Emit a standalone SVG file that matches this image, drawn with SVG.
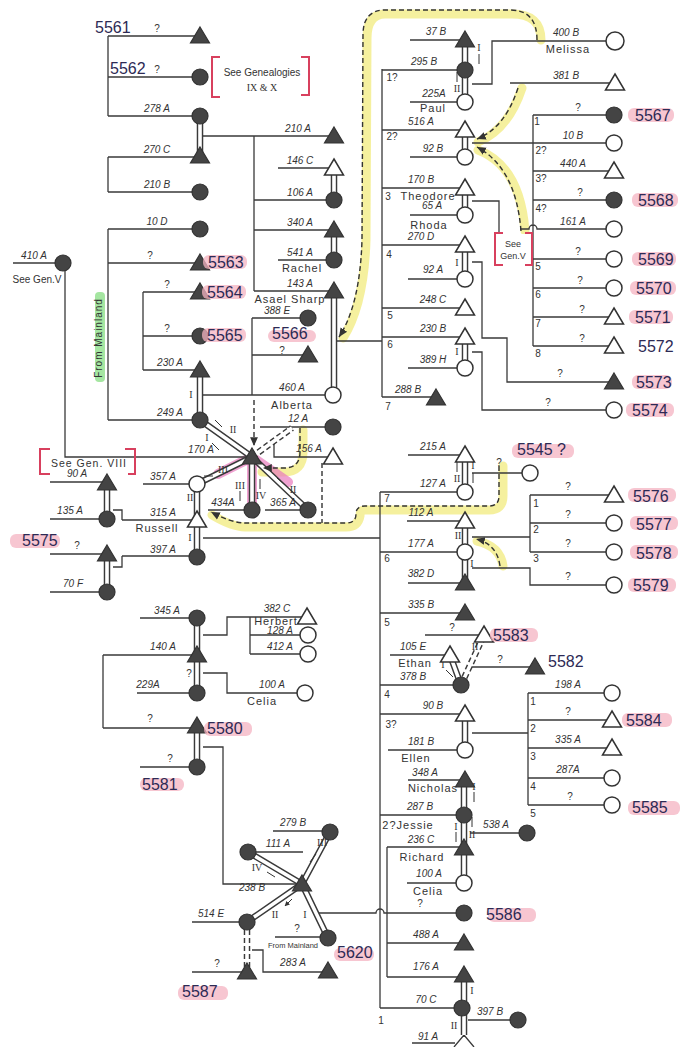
<svg xmlns="http://www.w3.org/2000/svg" width="685" height="1047" viewBox="0 0 685 1047">
<style>
.ln{stroke:#3a3a3a;stroke-width:1.3;fill:none}
.do{stroke:#3a3a3a;stroke-width:6.5;fill:none}
.di{stroke:#fff;stroke-width:3.6;fill:none}
.dd{stroke:#3a3a3a;stroke-width:6.5;fill:none;stroke-dasharray:5 3}
.ds{stroke:#333;stroke-width:1.4;fill:none;stroke-dasharray:5 3}
.sa{stroke:#333;stroke-width:1;fill:none}
.ye{stroke:#f2ec86;stroke-width:9;fill:none;stroke-linecap:round;stroke-linejoin:round;opacity:.8}
.pk{stroke:#e87bbd;stroke-width:10;fill:none;stroke-linecap:round;stroke-linejoin:round;opacity:.7}
.f{fill:#444;stroke:#333;stroke-width:1.2}
.o{fill:#fff;stroke:#333;stroke-width:1.5}
text{font-family:"Liberation Sans",Arial,sans-serif;fill:#333}
.l{font-size:10px;font-style:italic;text-anchor:middle}
.n{font-size:11px;letter-spacing:1px;text-anchor:middle}
.q{font-size:10px;text-anchor:middle}
.r{font-family:"Liberation Serif",serif;font-size:10px;text-anchor:middle}
.h{font-size:16px;fill:#2d2a55}
.hb{fill:#f4b3c2;opacity:.75}
.rb{stroke:#d8405e;stroke-width:2;fill:none}
</style>
<defs>
<path id="T" d="M0,-9L9.5,7H-9.5Z"/>
<marker id="ar" viewBox="0 0 10 10" refX="9" refY="5" markerWidth="7" markerHeight="7" orient="auto"><path d="M0,1L9,5L0,9Z" fill="#333"/></marker>
<marker id="sm" viewBox="0 0 10 10" refX="9" refY="5" markerUnits="userSpaceOnUse" markerWidth="5" markerHeight="5" orient="auto"><path d="M0,0L10,5L0,10Z" fill="#333"/></marker>
</defs>

<g id="highlights">
<rect x="95" y="292" width="10" height="90" rx="4" fill="#8fe08a" opacity=".8"/>
<path class="ye" d="M541,40 Q541,14 512,14 L385,14 Q367,14 367,38 L366,240 Q364,305 343,338"/>
<path class="ye" d="M522,88 Q508,130 478,142"/>
<path class="ye" d="M525,231 Q520,166 478,150"/>
<path class="ye" d="M303,430 V452 Q303,472 284,472 H262"/>
<path class="ye" d="M503,466 V496 Q503,510 489,510 H365 Q360,510 360,516 Q358,527 346,527 H245 Q232,527 212,515"/>
<path class="ye" d="M503,566 Q500,546 477,541"/>
<path class="pk" d="M218,474 L252,457 L252,503 M252,457 L288,482"/>
</g>

<g id="connectors">
<path class="ln" d="M108,36H200M108,77H200M108,116H200M108,36V116M108,157H200M108,192H200M108,157V192M108,229H200M108,263H200M108,420H200M108,229V420M143,292H200M143,336H200M143,370H200M143,292V370M13,263H63M65,263V457H252"/>
<path class="ln" d="M203,136H334M254,136V291M278,168H334M254,200H334M254,230H334M278,260H334M254,291H334M252,318H308M252,355H308M203,395H333M252,318V395M337,341H382M382,69V397"/>
<path class="ln" d="M410,40H465M382,70H465M410,102H465M472,84H492V41H615M510,83H615M382,130H465M410,157H465M472,143H533M533,115V346M533,115H614M533,143H614M533,171H614M533,200H614M520,229H529A4,4 0 0 1 537,229H614M533,259H614M533,288H614M533,317H614M533,346H614"/>
<path class="ln" d="M382,188H465M410,215H465M472,201H499V233M382,245H465M408,279H465M472,262H482V338H507V382H614M382,308H465M382,337H465M408,368H465M472,352H482V410H614M382,397H436"/>
<path class="ln" d="M143,484H197M122,520H197M113,510H122V520M122,556H197M113,567H122V556M50,482H107M50,519H107M50,554H107M50,592H107M208,510H252M265,510H308M260,427H333M274,441V457H333M203,538H380M380,492V1008"/>
<path class="ln" d="M408,455H465M380,492H465M472,473H530M407,521H465M380,552H465M408,583H465M472,537H530M530,495V552M530,495H614M530,523H614M530,552H614M472,568H530V585H614M380,613H465M425,635H484M390,655H450M380,685H461M470,667H535"/>
<path class="ln" d="M380,714H465M388,750H465M472,733H528M528,693V805M528,693H612M528,720H612M528,748H612M528,778H612M528,805H612M408,780H465M380,815H463M387,847H463M407,883H463M470,833H527M318,913H376A4,4 0 0 1 384,913H463M387,847V977M387,943H463M387,977H463M380,1008H462M468,1020H518M412,1043H455"/>
<path class="ln" d="M140,618H197M103,655H197M137,693H197M103,655V728M103,728H197M140,767H197M203,635H227V617H307M250,617V654M250,635H308M250,654H308M203,673H227V693H305M203,747H223V884H302M273,831H330M248,852H303M192,922H247M275,937H328M192,972H247M252,950H263V972H328M464,1035L454,1047M464,1035L474,1047"/>
<g id="doubles">
<path class="do" d="M200,116V156M200,370V420M334,168V200M334,230V260M334,291V395M465,40V102M465,130V157M465,188V215M465,245V279M465,337V368M107,483V519M107,554V592M197,484V557M200,420L252,457M197,484L252,457M252,457V510M252,457L308,510M465,455V492M465,521V583M450,655L461,685M465,714V750M464,780V883M464,975V1035M197,618V693M197,726V767M302,884L330,832M302,884L248,852M302,884L247,922M302,884L328,938"/>
<path class="di" d="M200,116V156M200,370V420M334,168V200M334,230V260M334,291V395M465,40V102M465,130V157M465,188V215M465,245V279M465,337V368M107,483V519M107,554V592M197,484V557M200,420L252,457M197,484L252,457M252,457V510M252,457L308,510M465,455V492M465,521V583M450,655L461,685M465,714V750M464,780V883M464,975V1035M197,618V693M197,726V767M302,884L330,832M302,884L248,852M302,884L247,922M302,884L328,938"/>
<path class="dd" d="M252,457L292,428M461,685L484,635M247,922V972"/>
<path class="di" d="M252,457L292,428M461,685L484,635M247,922V972"/>
</g>
<g id="dashed">
<path class="ds" d="M537,40 Q537,10 510,10 L385,10 Q363,10 363,35 L362,240 Q360,305 339,337" marker-end="url(#ar)"/>
<path class="ds" d="M518,88 Q505,128 477,139" marker-end="url(#ar)"/>
<path class="ds" d="M521,231 Q516,168 477,147" marker-end="url(#ar)"/>
<path class="ds" d="M300,428 V452 Q300,468 284,468 H263" marker-end="url(#ar)"/>
<path class="ds" d="M499,466 V496 Q499,506 489,506 H365 Q356,506 356,514 Q356,523 346,523 H245 Q232,523 211,512" marker-end="url(#ar)"/>
<path class="ds" d="M500,566 Q497,544 476,539" marker-end="url(#ar)"/>
<path class="ds" d="M254,400 V446" marker-end="url(#ar)"/>
<path class="ds" d="M322,463 V523"/>
</g>
<g id="arrows">
<path class="sa" marker-end="url(#sm)" d="M479,64V54M457,72V82M219,450L212,443M215,420L222,427M213,476H204M240,501V491M260,479V489M277,478L285,485M457,462V472M473,483V473M453,677L446,670M474,802V792M456,842V832M472,817V827M310,862L316,854M275,877L267,872M292,899L285,906"/>
</g>
<g id="marks">
<text class="r" x="191" y="398">I</text>
<text class="r" x="479" y="51">I</text>
<text class="r" x="457" y="92">II</text>
<text class="r" x="457" y="266">I</text><text class="r" x="457" y="355">I</text>
<text class="r" x="207" y="441">I</text>
<text class="r" x="233" y="433">II</text>
<text class="r" x="223" y="473">III</text>
<text class="r" x="190" y="501">II</text><text class="r" x="190" y="541">I</text>
<text class="r" x="240" y="489">III</text>
<text class="r" x="261" y="499">IV</text>
<text class="r" x="293" y="493">II</text>
<text class="r" x="457" y="482">II</text>
<text class="r" x="473" y="469">I</text>
<text class="r" x="458" y="539">II</text><text class="r" x="472" y="567">I</text>
<text class="r" x="443" y="668">I</text>
<text class="r" x="475" y="650">II</text>
<text class="r" x="474" y="790">I</text>
<text class="r" x="456" y="830">I</text>
<text class="r" x="472" y="838">II</text>
<text class="r" x="472" y="994">I</text><text class="r" x="454" y="1029">II</text>
<text class="r" x="322" y="846">III</text>
<text class="r" x="257" y="871">IV</text>
<text class="r" x="275" y="918">II</text>
<text class="r" x="305" y="918">I</text>
</g>
</g>

<g id="refs">
<path class="rb" d="M220,57H212V97H220M301,57H309V95H301"/>
<text x="262" y="76" font-size="10" text-anchor="middle">See Genealogies</text>
<text class="r" x="262" y="91" font-size="11">IX &amp; X</text>
<path class="rb" d="M50,449H40V474H50M125,449H135V474H128"/>
<text x="89" y="467" font-size="10.5" letter-spacing="1" text-anchor="middle">See Gen. VIII</text>
<path class="rb" d="M503,233H495V265H503M525,233H532V265H525"/>
<rect x="496" y="234" width="35" height="30" fill="#fff"/>
<text x="513" y="247" font-size="9" text-anchor="middle">See</text>
<text x="513" y="259" font-size="9" text-anchor="middle">Gen.V</text>
<text x="102" y="338" font-size="10" text-anchor="middle" letter-spacing="1" transform="rotate(-90 102 338)">From Mainland</text>
</g>

<g id="nodes">
<g id="n5561"><use href="#T" class="f" x="200" y="36"/><text class="q" x="157" y="32">?</text><text class="h" x="95" y="33">5561</text></g>
<g id="n5562"><circle class="f" cx="200" cy="77" r="8"/><text class="q" x="157" y="73">?</text><text class="h" x="110" y="74">5562</text></g>
<g id="n278A"><circle class="f" cx="200" cy="116" r="8"/><text class="l" x="157" y="112">278 A</text></g>
<g id="n270C"><use href="#T" class="f" x="200" y="156"/><text class="l" x="157" y="153">270 C</text></g>
<g id="n210B"><circle class="f" cx="200" cy="192" r="8"/><text class="l" x="157" y="188">210 B</text></g>
<g id="n10D"><circle class="f" cx="200" cy="229" r="8"/><text class="l" x="157" y="225">10 D</text></g>
<g id="n5563"><use href="#T" class="f" x="200" y="263"/><text class="q" x="150" y="259">?</text><rect class="hb" x="203" y="255" width="44" height="14" rx="6"/><text class="h" x="208" y="268">5563</text></g>
<g id="n249A"><circle class="f" cx="200" cy="420" r="8"/><text class="l" x="170" y="416">249 A</text></g>
<g id="n5564"><use href="#T" class="f" x="200" y="292"/><text class="q" x="167" y="288">?</text><rect class="hb" x="202" y="285" width="44" height="14" rx="6"/><text class="h" x="207" y="298">5564</text></g>
<g id="n5565"><circle class="f" cx="200" cy="336" r="8"/><text class="q" x="167" y="332">?</text><rect class="hb" x="202" y="328" width="44" height="14" rx="6"/><text class="h" x="207" y="341">5565</text></g>
<g id="n230A"><use href="#T" class="f" x="200" y="370"/><text class="l" x="170" y="366">230 A</text></g>
<g id="n410A"><circle class="f" cx="63" cy="263" r="8"/><text class="l" x="34" y="259">410 A</text><text x="37" y="283" font-size="10" text-anchor="middle">See Gen.V</text></g>
<g id="n210A"><use href="#T" class="f" x="334" y="136"/><text class="l" x="298" y="132">210 A</text></g>
<g id="n146C"><use href="#T" class="o" x="334" y="168"/><text class="l" x="300" y="164">146 C</text></g>
<g id="n106A"><circle class="f" cx="334" cy="200" r="8"/><text class="l" x="300" y="196">106 A</text></g>
<g id="n340A"><use href="#T" class="f" x="334" y="230"/><text class="l" x="300" y="226">340 A</text></g>
<g id="n541A"><circle class="f" cx="334" cy="260" r="8"/><text class="l" x="300" y="256">541 A</text><text class="n" x="302" y="272">Rachel</text></g>
<g id="n143A"><use href="#T" class="f" x="334" y="291"/><text class="l" x="300" y="287">143 A</text><text class="n" x="290" y="303">Asael Sharp</text></g>
<g id="n388E"><circle class="f" cx="308" cy="318" r="8"/><text class="l" x="277" y="314">388 E</text></g>
<g id="n5566"><use href="#T" class="f" x="308" y="355"/><text class="q" x="282" y="354">?</text><rect class="hb" x="268" y="330" width="48" height="12" rx="6"/><text class="h" x="272" y="339">5566</text></g>
<g id="n460A"><circle class="o" cx="333" cy="395" r="8"/><text class="l" x="292" y="391">460 A</text><text class="n" x="292" y="409">Alberta</text></g>

<g id="n37B"><use href="#T" class="f" x="465" y="40"/><text class="l" x="436" y="35">37 B</text></g>
<g id="n295B"><circle class="f" cx="465" cy="70" r="8"/><text class="l" x="424" y="65">295 B</text><text class="q" x="392" y="81">1?</text></g>
<g id="n225A"><circle class="o" cx="465" cy="102" r="8"/><text class="l" x="434" y="97">225A</text><text class="n" x="433" y="112">Paul</text></g>
<g id="n400B"><circle class="o" cx="615" cy="41" r="9"/><text class="l" x="566" y="36">400 B</text><text class="n" x="568" y="53">Melissa</text></g>
<g id="n381B"><use href="#T" class="o" x="615" y="83"/><text class="l" x="566" y="79">381 B</text></g>
<g id="n516A"><use href="#T" class="o" x="465" y="130"/><text class="l" x="421" y="125">516 A</text><text class="q" x="392" y="140">2?</text></g>
<g id="n92B"><circle class="o" cx="465" cy="157" r="8"/><text class="l" x="433" y="152">92 B</text></g>
<g id="n170B"><use href="#T" class="o" x="465" y="188"/><text class="l" x="421" y="183">170 B</text><text class="q" x="388" y="200">3</text><text class="n" x="428" y="200" letter-spacing="0.5">Theodore</text></g>
<g id="n65A"><circle class="o" cx="465" cy="215" r="8"/><text class="l" x="432" y="209">65 A</text><text class="n" x="429" y="229">Rhoda</text></g>
<g id="n270D"><use href="#T" class="o" x="465" y="245"/><text class="l" x="421" y="240">270 D</text><text class="q" x="389" y="258">4</text></g>
<g id="n92A"><circle class="o" cx="465" cy="279" r="8"/><text class="l" x="433" y="273">92 A</text></g>
<g id="n248C"><use href="#T" class="o" x="465" y="308"/><text class="l" x="433" y="303">248 C</text><text class="q" x="390" y="319">5</text></g>
<g id="n230B"><use href="#T" class="o" x="465" y="337"/><text class="l" x="433" y="332">230 B</text><text class="q" x="390" y="348">6</text></g>
<g id="n389H"><circle class="o" cx="465" cy="368" r="8"/><text class="l" x="433" y="363">389 H</text></g>
<g id="n288B"><use href="#T" class="f" x="436" y="398"/><text class="l" x="408" y="393">288 B</text><text class="q" x="388" y="410">7</text></g>
<g id="n5567"><circle class="f" cx="614" cy="115" r="8"/><text class="q" x="578" y="111">?</text><text class="q" x="537" y="125">1</text><rect class="hb" x="628" y="108" width="46" height="14" rx="6"/><text class="h" x="635" y="121">5567</text></g>
<g id="n10B"><circle class="o" cx="614" cy="143" r="8"/><text class="l" x="573" y="139">10 B</text><text class="q" x="541" y="154">2?</text></g>
<g id="n440A"><use href="#T" class="o" x="614" y="171"/><text class="l" x="573" y="167">440 A</text><text class="q" x="541" y="182">3?</text></g>
<g id="n5568"><circle class="f" cx="614" cy="200" r="8"/><text class="q" x="580" y="196">?</text><text class="q" x="541" y="212">4?</text><rect class="hb" x="632" y="193" width="46" height="14" rx="6"/><text class="h" x="638" y="206">5568</text></g>
<g id="n161A"><circle class="o" cx="614" cy="229" r="8"/><text class="l" x="573" y="225">161 A</text></g>
<g id="n5569"><circle class="o" cx="614" cy="259" r="8"/><text class="q" x="578" y="255">?</text><text class="q" x="538" y="270">5</text><rect class="hb" x="632" y="252" width="44" height="14" rx="6"/><text class="h" x="638" y="265">5569</text></g>
<g id="n5570"><circle class="o" cx="614" cy="288" r="8"/><text class="q" x="580" y="284">?</text><text class="q" x="538" y="298">6</text><rect class="hb" x="630" y="281" width="46" height="14" rx="6"/><text class="h" x="636" y="294">5570</text></g>
<g id="n5571"><use href="#T" class="o" x="614" y="317"/><text class="q" x="582" y="313">?</text><text class="q" x="538" y="327">7</text><rect class="hb" x="629" y="310" width="44" height="14" rx="6"/><text class="h" x="635" y="323">5571</text></g>
<g id="n5572"><use href="#T" class="o" x="614" y="346"/><text class="q" x="582" y="342">?</text><text class="q" x="538" y="357">8</text><text class="h" x="638" y="352">5572</text></g>
<g id="n5573"><use href="#T" class="f" x="614" y="382"/><text class="q" x="560" y="377">?</text><rect class="hb" x="632" y="375" width="40" height="14" rx="6" opacity=".45"/><text class="h" x="636" y="388">5573</text></g>
<g id="n5574"><circle class="o" cx="614" cy="410" r="8"/><text class="q" x="548" y="406">?</text><rect class="hb" x="626" y="403" width="48" height="14" rx="6"/><text class="h" x="632" y="416">5574</text></g>

<g id="n170A"><use href="#T" class="f" x="252" y="457"/><text class="l" x="201" y="453">170 A</text></g>
<g id="n12A"><circle class="f" cx="333" cy="427" r="8"/><text class="l" x="298" y="422">12 A</text></g>
<g id="n156A"><use href="#T" class="o" x="333" y="457"/><text class="l" x="309" y="452">156 A</text></g>
<g id="n357A"><circle class="o" cx="197" cy="484" r="8"/><text class="l" x="163" y="480">357 A</text></g>
<g id="n315A"><use href="#T" class="o" x="197" y="520"/><text class="l" x="163" y="516">315 A</text><text class="n" x="157" y="532">Russell</text></g>
<g id="n397A"><circle class="f" cx="197" cy="557" r="8"/><text class="l" x="163" y="553">397 A</text></g>
<g id="n434A"><circle class="f" cx="252" cy="510" r="8"/><text class="l" x="223" y="506">434A</text></g>
<g id="n365A"><circle class="f" cx="308" cy="510" r="8"/><text class="l" x="283" y="506">365 A</text></g>
<g id="n90A"><use href="#T" class="f" x="107" y="483"/><text class="l" x="77" y="477">90 A</text></g>
<g id="n135A"><circle class="f" cx="107" cy="519" r="8"/><text class="l" x="70" y="514">135 A</text></g>
<g id="n5575"><use href="#T" class="f" x="107" y="554"/><text class="q" x="77" y="549">?</text><rect class="hb" x="10" y="534" width="50" height="14" rx="6"/><text class="h" x="22" y="546">5575</text></g>
<g id="n70F"><circle class="f" cx="107" cy="592" r="8"/><text class="l" x="73" y="587">70 F</text></g>

<g id="n215A"><use href="#T" class="o" x="465" y="455"/><text class="l" x="433" y="450">215 A</text></g>
<g id="n127A"><circle class="o" cx="465" cy="492" r="8"/><text class="l" x="433" y="487">127 A</text><text class="q" x="387" y="502">7</text></g>
<g id="n5545"><circle class="o" cx="530" cy="473" r="8"/><text class="q" x="499" y="466">?</text><rect class="hb" x="512" y="444" width="62" height="14" rx="6"/><text class="h" x="517" y="455">5545 ?</text></g>
<g id="n112A"><use href="#T" class="o" x="465" y="521"/><text class="l" x="421" y="516">112 A</text></g>
<g id="n177A"><circle class="o" cx="465" cy="552" r="8"/><text class="l" x="421" y="547">177 A</text><text class="q" x="387" y="562">6</text></g>
<g id="n382D"><use href="#T" class="f" x="465" y="583"/><text class="l" x="421" y="577">382 D</text></g>
<g id="n5576"><use href="#T" class="o" x="614" y="495"/><text class="q" x="568" y="490">?</text><text class="q" x="536" y="507">1</text><rect class="hb" x="628" y="488" width="48" height="14" rx="6"/><text class="h" x="633" y="502">5576</text></g>
<g id="n5577"><circle class="o" cx="614" cy="523" r="8"/><text class="q" x="568" y="518">?</text><text class="q" x="536" y="533">2</text><rect class="hb" x="630" y="516" width="48" height="14" rx="6"/><text class="h" x="636" y="530">5577</text></g>
<g id="n5578"><circle class="o" cx="614" cy="552" r="8"/><text class="q" x="568" y="547">?</text><text class="q" x="536" y="562">3</text><rect class="hb" x="630" y="545" width="48" height="14" rx="6"/><text class="h" x="636" y="559">5578</text></g>
<g id="n5579"><circle class="o" cx="614" cy="585" r="8"/><text class="q" x="568" y="580">?</text><rect class="hb" x="628" y="578" width="48" height="14" rx="6"/><text class="h" x="633" y="591">5579</text></g>
<g id="n335B"><use href="#T" class="f" x="465" y="613"/><text class="l" x="421" y="608">335 B</text><text class="q" x="387" y="626">5</text></g>
<g id="n5583"><use href="#T" class="o" x="484" y="635"/><text class="q" x="452" y="631">?</text><rect class="hb" x="490" y="628" width="48" height="14" rx="6"/><text class="h" x="493" y="641">5583</text></g>
<g id="n105E"><use href="#T" class="o" x="450" y="655"/><text class="l" x="413" y="650">105 E</text><text class="n" x="415" y="667">Ethan</text></g>
<g id="n378B"><circle class="f" cx="461" cy="685" r="8"/><text class="l" x="413" y="680">378 B</text><text class="q" x="387" y="698">4</text></g>
<g id="n5582"><use href="#T" class="f" x="535" y="667"/><text class="q" x="500" y="663">?</text><text class="h" x="548" y="667">5582</text></g>
<g id="n90B"><use href="#T" class="o" x="465" y="714"/><text class="l" x="433" y="709">90 B</text><text class="q" x="391" y="728">3?</text></g>
<g id="n181B"><circle class="o" cx="465" cy="750" r="8"/><text class="l" x="421" y="745">181 B</text><text class="n" x="416" y="762">Ellen</text></g>
<g id="n198A"><circle class="o" cx="612" cy="693" r="8"/><text class="l" x="568" y="688">198 A</text><text class="q" x="533" y="705">1</text></g>
<g id="n5584"><use href="#T" class="o" x="612" y="720"/><text class="q" x="568" y="715">?</text><text class="q" x="533" y="732">2</text><rect class="hb" x="622" y="713" width="50" height="14" rx="6"/><text class="h" x="626" y="726">5584</text></g>
<g id="n335A"><use href="#T" class="o" x="612" y="748"/><text class="l" x="568" y="743">335 A</text><text class="q" x="533" y="760">3</text></g>
<g id="n287A"><circle class="o" cx="612" cy="778" r="8"/><text class="l" x="568" y="773">287A</text><text class="q" x="533" y="790">4</text></g>
<g id="n5585"><circle class="o" cx="612" cy="805" r="8"/><text class="q" x="570" y="800">?</text><text class="q" x="533" y="817">5</text><rect class="hb" x="628" y="801" width="52" height="14" rx="6"/><text class="h" x="632" y="813">5585</text></g>
<g id="n348A"><use href="#T" class="f" x="465" y="780"/><text class="l" x="425" y="776">348 A</text><text class="n" x="433" y="792">Nicholas</text></g>
<g id="n287B"><circle class="f" cx="464" cy="815" r="8"/><text class="l" x="420" y="810">287 B</text><text class="n" x="408" y="829">2?Jessie</text></g>
<g id="n236C"><use href="#T" class="f" x="464" y="848"/><text class="l" x="421" y="843">236 C</text><text class="n" x="422" y="861">Richard</text></g>
<g id="n100A2"><circle class="o" cx="464" cy="883" r="8"/><text class="l" x="429" y="877">100 A</text><text class="n" x="428" y="895">Celia</text></g>
<g id="n538A"><circle class="f" cx="527" cy="833" r="8"/><text class="l" x="496" y="828">538 A</text></g>
<g id="n5586"><circle class="f" cx="464" cy="913" r="8"/><text class="q" x="420" y="907">?</text><rect class="hb" x="488" y="908" width="48" height="14" rx="6"/><text class="h" x="486" y="920">5586</text></g>
<g id="n488A"><use href="#T" class="f" x="464" y="943"/><text class="l" x="426" y="938">488 A</text></g>
<g id="n176A"><use href="#T" class="f" x="464" y="975"/><text class="l" x="426" y="970">176 A</text></g>
<g id="n70C"><circle class="f" cx="462" cy="1008" r="8"/><text class="l" x="426" y="1003">70 C</text><text class="q" x="381" y="1024">1</text></g>
<g id="n397B"><circle class="f" cx="518" cy="1020" r="8"/><text class="l" x="490" y="1015">397 B</text></g>
<g id="n91A"><text class="l" x="428" y="1040">91 A</text></g>

<g id="n345A"><circle class="f" cx="197" cy="618" r="8"/><text class="l" x="167" y="614">345 A</text></g>
<g id="n140A"><use href="#T" class="f" x="197" y="655"/><text class="l" x="163" y="650">140 A</text></g>
<g id="n229A"><circle class="f" cx="197" cy="693" r="8"/><text class="l" x="148" y="688">229A</text><text class="q" x="189" y="677">?</text></g>
<g id="n382C"><use href="#T" class="o" x="307" y="617"/><text class="l" x="277" y="612">382 C</text><text class="n" x="276" y="625" font-size="9">Herbert</text></g>
<g id="n128A"><circle class="o" cx="308" cy="635" r="8"/><text class="l" x="280" y="634" font-size="7.5">128 A</text></g>
<g id="n412A"><circle class="o" cx="308" cy="654" r="8"/><text class="l" x="280" y="650">412 A</text></g>
<g id="n100A1"><circle class="o" cx="305" cy="693" r="8"/><text class="l" x="272" y="688">100 A</text><text class="n" x="262" y="705">Celia</text></g>
<g id="n5580"><use href="#T" class="f" x="197" y="726"/><text class="q" x="150" y="722">?</text><rect class="hb" x="204" y="722" width="48" height="14" rx="6"/><text class="h" x="207" y="734">5580</text></g>
<g id="n5581"><circle class="f" cx="197" cy="767" r="8"/><text class="q" x="170" y="762">?</text><rect class="hb" x="140" y="778" width="44" height="13" rx="6"/><text class="h" x="142" y="790">5581</text></g>
<g id="n238B"><use href="#T" class="f" x="302" y="884"/><text class="l" x="252" y="891">238 B</text></g>
<g id="n279B"><circle class="f" cx="330" cy="832" r="8"/><text class="l" x="293" y="826">279 B</text></g>
<g id="n111A"><circle class="f" cx="248" cy="852" r="8"/><text class="l" x="278" y="847">111 A</text></g>
<g id="n514E"><circle class="f" cx="247" cy="922" r="8"/><text class="l" x="211" y="917">514 E</text></g>
<g id="n5620"><circle class="f" cx="328" cy="938" r="8"/><text class="q" x="297" y="932">?</text><text x="293" y="948" font-size="7.5" text-anchor="middle">From Mainland</text><rect class="hb" x="334" y="948" width="40" height="13" rx="6"/><text class="h" x="337" y="958">5620</text></g>
<g id="n5587"><use href="#T" class="f" x="247" y="972"/><text class="q" x="217" y="967">?</text><rect class="hb" x="178" y="986" width="50" height="14" rx="6"/><text class="h" x="182" y="997">5587</text></g>
<g id="n283A"><use href="#T" class="f" x="328" y="971"/><text class="l" x="293" y="966">283 A</text></g>
</g>
</svg>
